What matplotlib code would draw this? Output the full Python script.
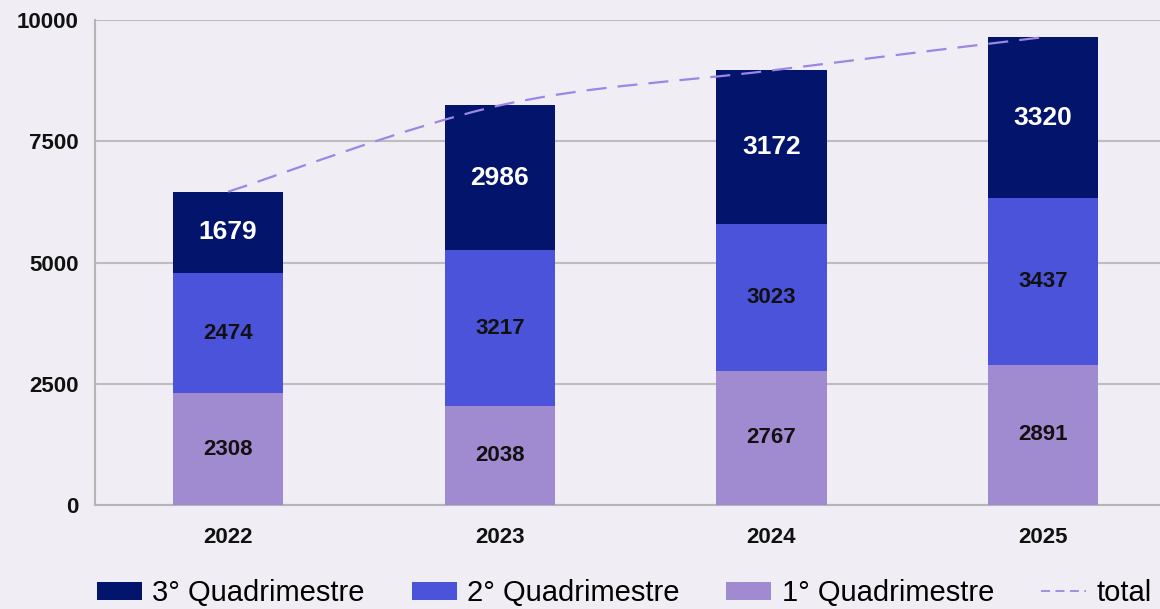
import numpy as np
import matplotlib
matplotlib.use("Agg")
import matplotlib.pyplot as plt
from matplotlib.path import Path
from matplotlib.patches import PathPatch
from matplotlib.lines import Line2D

plt.rcParams['font.family'] = ['Liberation Sans', 'DejaVu Sans']

anni = ["2022", "2023", "2024", "2025"]
q1 = [2308, 2038, 2767, 2891]
q2 = [2474, 3217, 3023, 3437]
q3 = [1679, 2986, 3172, 3320]
y_ticks = [0, 2500, 5000, 7500, 10000]

c_q3 = "#02146b"
c_q2 = "#4a53d9"
c_q1 = "#a08bd0"
c_tot = "#9d86e4"
bg = "#f0eef4"

x = np.arange(len(anni))
q1 = np.array(q1)
q2 = np.array(q2)
q3 = np.array(q3)
totale = q1 + q2 + q3

fig = plt.figure(figsize=(11.6, 6.09), dpi=100, facecolor=bg)
ax = fig.add_axes([0.0819, 0.1708, 0.9181, 0.7962])
ax.set_facecolor(bg)

w = 0.405
ax.bar(x, q1, w, color=c_q1, label="1° Quadrimestre", zorder=3)
ax.bar(x, q2, w, bottom=q1, color=c_q2, label="2° Quadrimestre", zorder=3)
ax.bar(x, q3, w, bottom=q1 + q2, color=c_q3, label="3° Quadrimestre", zorder=3)

for i in range(len(x)):
    ax.text(x[i], q1[i] / 2, str(q1[i]), ha="center", va="center",
            fontsize=16, fontweight="bold", color="#111111", zorder=4)
    ax.text(x[i], q1[i] + q2[i] / 2, str(q2[i]), ha="center", va="center",
            fontsize=16, fontweight="bold", color="#111111", zorder=4)
    ax.text(x[i], q1[i] + q2[i] + q3[i] / 2, str(q3[i]), ha="center", va="center",
            fontsize=19, fontweight="bold", color="white", zorder=4)

# linea del totale, smussata (catmull-rom -> bezier)
pts = np.column_stack([x, totale]).astype(float)
verts = [tuple(pts[0])]
codes = [Path.MOVETO]
for i in range(len(pts) - 1):
    p0 = pts[i - 1] if i > 0 else pts[i]
    p1 = pts[i]
    p2 = pts[i + 1]
    p3 = pts[i + 2] if i + 2 < len(pts) else pts[i + 1]
    c1 = p1 + (p2 - p0) / 6
    c2 = p2 - (p3 - p1) / 6
    verts += [tuple(c1), tuple(c2), tuple(p2)]
    codes += [Path.CURVE4] * 3
ax.add_patch(PathPatch(Path(verts, codes), fill=False, edgecolor=c_tot, lw=1.6,
                       linestyle=(0, (9, 5)), zorder=5))

ax.set_xlim(-0.49, 3.43)
ax.set_ylim(0, 10000)
ax.set_yticks(y_ticks)
ax.set_yticklabels([str(t) for t in y_ticks], fontsize=16, fontweight="bold")
ax.set_xticks(x)
ax.set_xticklabels(anni, fontsize=16, fontweight="bold")
ax.tick_params(axis="both", length=0, colors="#111111")
ax.tick_params(axis="y", pad=12)
ax.tick_params(axis="x", pad=16)
ax.grid(axis="y", color="#bdbdbd", lw=1.5, zorder=0)
for s in ["top", "right"]:
    ax.spines[s].set_visible(False)
for s in ["left", "bottom"]:
    ax.spines[s].set_color("#b5b5b5")
    ax.spines[s].set_linewidth(1.5)

h, l = ax.get_legend_handles_labels()
handles = [h[2], h[1], h[0], Line2D([], [], color=c_tot, lw=1.3, linestyle=(0, (5, 3)))]
labels = [l[2], l[1], l[0], "total"]
fig.legend(handles, labels, loc="center left", bbox_to_anchor=(0.0836, 0.026), ncol=4,
           frameon=False, fontsize=21, handlelength=1.55, handleheight=0.6,
           handletextpad=0.35, columnspacing=1.6, borderpad=0, borderaxespad=0)

fig.savefig("out.png", dpi=100, facecolor=bg)
